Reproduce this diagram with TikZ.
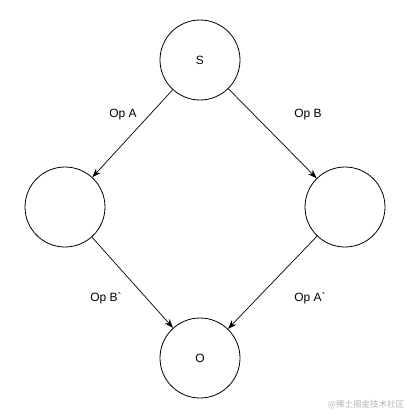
\documentclass[tikz,border=0pt]{standalone}
\usepackage{fontspec}
\setmainfont{Liberation Sans}
\newfontfamily\cjk{Noto Sans CJK SC}
\usetikzlibrary{arrows.meta}
\begin{document}
\begin{tikzpicture}[x=1pt,y=-1pt, font=\fontsize{12}{14}\selectfont,
  state/.style={draw, circle, line width=0.8pt, minimum size=80pt, inner sep=0pt},
  op/.style={-{Stealth[length=9pt,width=6.5pt]}, line width=0.7pt}]
\useasboundingbox (0,0) rectangle (407,418);
\node[state] (s) at (200,60) {S};
\node[state] (l) at (65,207) {};
\node[state] (r) at (345,207) {};
\node[state] (o) at (200,358) {O};
\draw[op] (s) -- (l);
\draw[op] (s) -- (r);
\draw[op] (l) -- (o);
\draw[op] (r) -- (o);
\node (la) at (123,115) {Op A};
\node (lb) at (308,115) {Op B};
\node (lb2) at (106,298) {Op B\textasciigrave};
\node (la2) at (310,298) {Op A\textasciigrave};
\node[text=black!30, font=\cjk\fontsize{8.5}{10}\selectfont] (wm) at (366,405) {@稀土掘金技术社区};
\end{tikzpicture}
\end{document}
